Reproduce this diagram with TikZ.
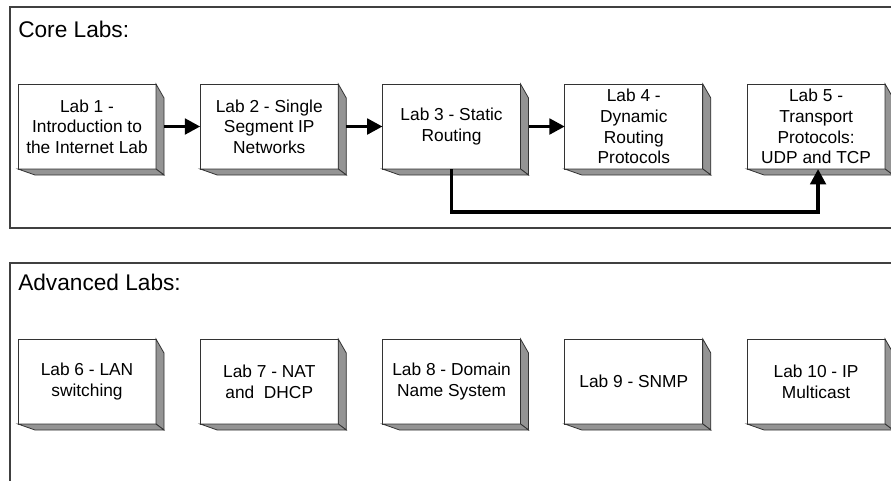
\documentclass[tikz,border=0pt]{standalone}
\usepackage{fontspec}
\setmainfont{Liberation Sans}
\usetikzlibrary{arrows.meta}

\tikzset{
  labbox/.style={rectangle, draw=black!80, line width=0.6pt, fill=white, outer sep=0pt,
    align=center, minimum width=103.5pt, minimum height=63.75pt,
    font=\fontsize{13}{15.5}\selectfont},
  sideface/.style={draw=black!80, line width=0.6pt, fill=black!42},
  frame/.style={draw=black!75, line width=1.3pt},
  heading/.style={anchor=base west, inner sep=0pt, font=\fontsize{17}{20}\selectfont},
  flow/.style={draw=black, line width=2.8pt, -{Triangle[length=11.5pt,width=11.5pt]}}
}

% grey depth faces on the right and bottom of a lab box
\newcommand{\labdepth}[1]{%
  \draw[sideface] (#1.north east) -- ++(6pt,-10.5pt) -- ([shift={(6pt,-4.5pt)}]#1.south east)
    -- (#1.south east) -- cycle;
  \draw[sideface] (#1.south west) -- ++(12.75pt,-4.5pt) -- ([shift={(6pt,-4.5pt)}]#1.south east)
    -- (#1.south east) -- cycle;
}

\begin{document}
\begin{tikzpicture}[x=0.75pt, y=-0.75pt, node distance=136.7pt]
	\clip (0,0) rectangle (891,480);

	% core labs
	\draw[frame] (10,7) rectangle (905,228);
	\node (core) [heading] at (18,37) {Core Labs:};

	\node (lab1) [labbox] at (87,126.5) {Lab 1 -\\Introduction to\\the Internet Lab};
	\node (lab2) [labbox, right of=lab1] {Lab 2 - Single\\Segment IP\\Networks};
	\node (lab3) [labbox, right of=lab2] {Lab 3 - Static\\Routing};
	\node (lab4) [labbox, right of=lab3] {Lab 4 -\\Dynamic\\Routing\\Protocols};
	\node (lab5) [labbox, right of=lab4] {Lab 5 -\\Transport\\Protocols:\\UDP and TCP};
	\foreach \n in {lab1,lab2,lab3,lab4,lab5} {\labdepth{\n}}

	\draw[flow] ([xshift=6pt]lab1.east) -- (lab2.west);
	\draw[flow] ([xshift=6pt]lab2.east) -- (lab3.west);
	\draw[flow] ([xshift=6pt]lab3.east) -- (lab4.west);
	\draw[flow] (lab3.south) -- (lab3.south |- 0,212) -| ([xshift=1.5pt]lab5.south);

	% advanced labs
	\draw[frame] (10,263) rectangle (905,490);
	\node (advanced) [heading] at (18,290) {Advanced Labs:};

	\node (lab6) [labbox] at (87,381.5) {Lab 6 - LAN\\switching};
	\node (lab7) [labbox, right of=lab6] {Lab 7 - NAT\\and\ \ DHCP};
	\node (lab8) [labbox, right of=lab7] {Lab 8 - Domain\\Name System};
	\node (lab9) [labbox, right of=lab8] {Lab 9 - SNMP};
	\node (lab10) [labbox, right of=lab9] {Lab 10 - IP\\Multicast};
	\foreach \n in {lab6,lab7,lab8,lab9,lab10} {\labdepth{\n}}
\end{tikzpicture}
\end{document}
